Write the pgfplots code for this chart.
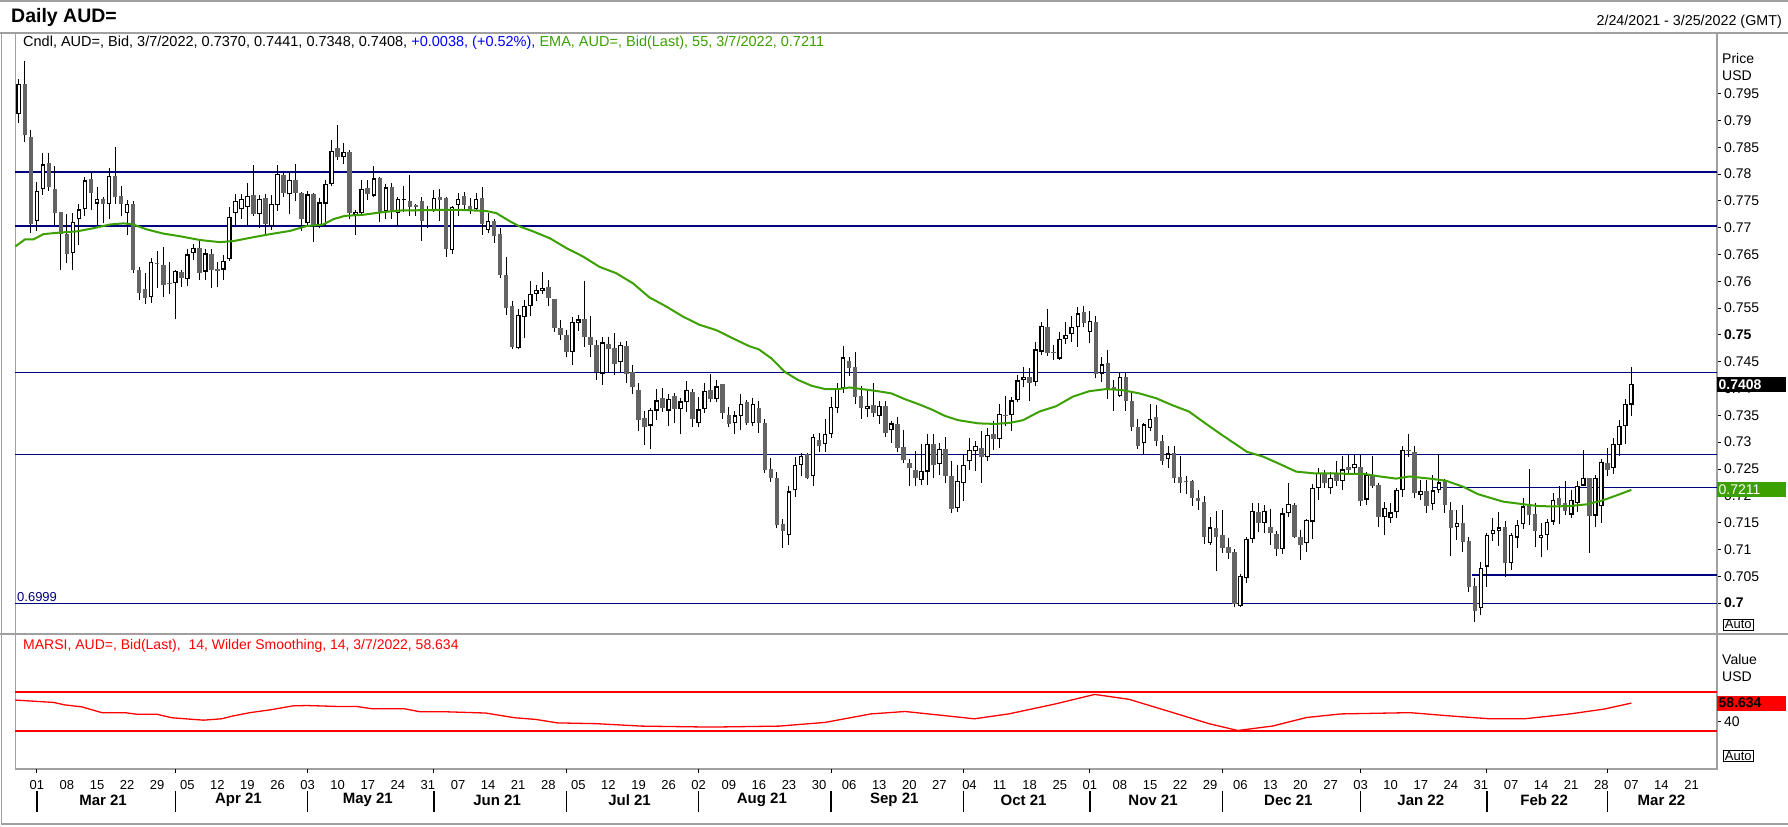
\documentclass[border=0pt]{standalone}
\usepackage{fontspec}
\setmainfont{Liberation Sans}
\usepackage{pgfplots}
\usepackage{pgfplotstable}
\pgfplotsset{compat=1.18}
\definecolor{navyl}{RGB}{0,0,128}
\definecolor{emag}{RGB}{60,160,0}
\definecolor{cgray}{RGB}{100,100,100}
\definecolor{fgray}{RGB}{160,160,160}
\definecolor{rsired}{RGB}{255,0,0}
\definecolor{hblue}{RGB}{0,0,255}
\newcommand{\fs}[1]{\fontsize{#1pt}{#1pt}\selectfont}
\pgfplotsset{ebar/.style={draw=none, mark=none, forget plot, error bars/.cd, y dir=plus, y explicit, error mark=none, error bar style={#1}}}
\pgfplotstableread{
i o h l c
0 0.7912 0.7977 0.7895 0.7968
1 0.7968 0.8010 0.7859 0.7872
2 0.7870 0.7883 0.7691 0.7706
3 0.7713 0.7786 0.7694 0.7769
4 0.7772 0.7839 0.7761 0.7818
5 0.7820 0.7839 0.7769 0.7775
6 0.7773 0.7815 0.7705 0.7727
7 0.7729 0.7730 0.7622 0.7689
8 0.7689 0.7726 0.7635 0.7651
9 0.7652 0.7727 0.7622 0.7711
10 0.7716 0.7745 0.7668 0.7734
11 0.7734 0.7795 0.7722 0.7788
12 0.7790 0.7803 0.7733 0.7765
13 0.7745 0.7775 0.7705 0.7754
14 0.7754 0.7758 0.7709 0.7744
15 0.7744 0.7812 0.7716 0.7796
16 0.7796 0.7851 0.7745 0.7757
17 0.7759 0.7777 0.7721 0.7744
18 0.7727 0.7752 0.7686 0.7745
19 0.7745 0.7749 0.7615 0.7622
20 0.7621 0.7627 0.7565 0.7578
21 0.7585 0.7615 0.7558 0.7568
22 0.7570 0.7643 0.7560 0.7636
23 0.7635 0.7657 0.7587 0.7632
24 0.7630 0.7664 0.7570 0.7593
25 0.7597 0.7636 0.7577 0.7595
26 0.7596 0.7622 0.7530 0.7619
27 0.7617 0.7622 0.7590 0.7607
28 0.7604 0.7660 0.7592 0.7650
29 0.7652 0.7669 0.7640 0.7663
30 0.7663 0.7675 0.7602 0.7615
31 0.7618 0.7660 0.7602 0.7652
32 0.7650 0.7660 0.7587 0.7622
33 0.7622 0.7636 0.7590 0.7620
34 0.7622 0.7649 0.7602 0.7638
35 0.7641 0.7739 0.7637 0.7720
36 0.7727 0.7762 0.7703 0.7750
37 0.7734 0.7762 0.7716 0.7753
38 0.7739 0.7784 0.7703 0.7759
39 0.7761 0.7817 0.7721 0.7725
40 0.7725 0.7761 0.7699 0.7753
41 0.7756 0.7763 0.7689 0.7707
42 0.7703 0.7761 0.7696 0.7745
43 0.7742 0.7817 0.7732 0.7800
44 0.7798 0.7806 0.7757 0.7765
45 0.7762 0.7803 0.7725 0.7789
46 0.7789 0.7819 0.7749 0.7765
47 0.7764 0.7767 0.7694 0.7717
48 0.7708 0.7769 0.7703 0.7762
49 0.7763 0.7764 0.7674 0.7705
50 0.7705 0.7756 0.7700 0.7747
51 0.7745 0.7789 0.7701 0.7781
52 0.7781 0.7864 0.7778 0.7843
53 0.7849 0.7892 0.7826 0.7831
54 0.7831 0.7857 0.7818 0.7841
55 0.7841 0.7845 0.7717 0.7727
56 0.7724 0.7733 0.7687 0.7730
57 0.7727 0.7789 0.7721 0.7773
58 0.7774 0.7788 0.7752 0.7763
59 0.7760 0.7815 0.7757 0.7792
60 0.7792 0.7795 0.7711 0.7728
61 0.7730 0.7781 0.7716 0.7775
62 0.7775 0.7783 0.7716 0.7730
63 0.7727 0.7758 0.7703 0.7753
64 0.7751 0.7778 0.7730 0.7753
65 0.7750 0.7798 0.7722 0.7739
66 0.7741 0.7745 0.7722 0.7739
67 0.7750 0.7758 0.7676 0.7713
68 0.7733 0.7741 0.7699 0.7735
69 0.7733 0.7770 0.7730 0.7755
70 0.7757 0.7773 0.7713 0.7752
71 0.7755 0.7758 0.7645 0.7660
72 0.7658 0.7740 0.7651 0.7738
73 0.7742 0.7765 0.7721 0.7754
74 0.7759 0.7767 0.7734 0.7742
75 0.7740 0.7756 0.7725 0.7733
76 0.7734 0.7765 0.7732 0.7754
77 0.7755 0.7775 0.7687 0.7706
78 0.7696 0.7728 0.7691 0.7712
79 0.7712 0.7717 0.7672 0.7685
80 0.7688 0.7699 0.7606 0.7611
81 0.7612 0.7646 0.7537 0.7551
82 0.7554 0.7564 0.7473 0.7478
83 0.7476 0.7548 0.7474 0.7537
84 0.7533 0.7565 0.7494 0.7554
85 0.7553 0.7601 0.7536 0.7576
86 0.7576 0.7593 0.7564 0.7584
87 0.7581 0.7617 0.7576 0.7587
88 0.7589 0.7602 0.7553 0.7568
89 0.7567 0.7567 0.7506 0.7512
90 0.7513 0.7528 0.7491 0.7499
91 0.7499 0.7509 0.7458 0.7469
92 0.7468 0.7534 0.7444 0.7525
93 0.7523 0.7538 0.7508 0.7529
94 0.7530 0.7601 0.7478 0.7497
95 0.7496 0.7535 0.7459 0.7481
96 0.7481 0.7491 0.7415 0.7431
97 0.7428 0.7496 0.7407 0.7486
98 0.7483 0.7497 0.7431 0.7474
99 0.7476 0.7503 0.7426 0.7446
100 0.7449 0.7487 0.7430 0.7481
101 0.7479 0.7489 0.7411 0.7428
102 0.7430 0.7444 0.7390 0.7402
103 0.7397 0.7410 0.7321 0.7341
104 0.7345 0.7358 0.7295 0.7329
105 0.7331 0.7364 0.7288 0.7360
106 0.7359 0.7399 0.7341 0.7378
107 0.7382 0.7401 0.7356 0.7364
108 0.7359 0.7390 0.7330 0.7380
109 0.7386 0.7391 0.7335 0.7361
110 0.7361 0.7382 0.7316 0.7376
111 0.7374 0.7414 0.7357 0.7397
112 0.7394 0.7399 0.7329 0.7344
113 0.7335 0.7385 0.7328 0.7361
114 0.7362 0.7410 0.7355 0.7395
115 0.7397 0.7427 0.7374 0.7380
116 0.7380 0.7416 0.7374 0.7404
117 0.7408 0.7408 0.7344 0.7354
118 0.7351 0.7365 0.7328 0.7333
119 0.7335 0.7359 0.7315 0.7350
120 0.7349 0.7390 0.7323 0.7372
121 0.7375 0.7379 0.7332 0.7335
122 0.7335 0.7382 0.7331 0.7371
123 0.7363 0.7376 0.7318 0.7336
124 0.7335 0.7343 0.7242 0.7248
125 0.7249 0.7270 0.7226 0.7233
126 0.7233 0.7244 0.7139 0.7146
127 0.7147 0.7157 0.7103 0.7135
128 0.7126 0.7218 0.7109 0.7208
129 0.7210 0.7272 0.7198 0.7257
130 0.7257 0.7280 0.7236 0.7274
131 0.7277 0.7280 0.7231 0.7234
132 0.7236 0.7316 0.7219 0.7310
133 0.7304 0.7318 0.7281 0.7293
134 0.7296 0.7343 0.7282 0.7316
135 0.7315 0.7384 0.7307 0.7365
136 0.7364 0.7410 0.7354 0.7400
137 0.7400 0.7479 0.7392 0.7458
138 0.7451 0.7459 0.7424 0.7439
139 0.7440 0.7469 0.7372 0.7385
140 0.7386 0.7405 0.7344 0.7364
141 0.7362 0.7396 0.7346 0.7367
142 0.7369 0.7411 0.7346 0.7355
143 0.7349 0.7377 0.7334 0.7367
144 0.7367 0.7376 0.7310 0.7318
145 0.7322 0.7339 0.7299 0.7335
146 0.7334 0.7346 0.7282 0.7290
147 0.7291 0.7323 0.7261 0.7266
148 0.7262 0.7269 0.7219 0.7251
149 0.7248 0.7284 0.7219 0.7233
150 0.7229 0.7297 0.7220 0.7246
151 0.7245 0.7316 0.7220 0.7296
152 0.7297 0.7316 0.7234 0.7257
153 0.7259 0.7299 0.7239 0.7287
154 0.7287 0.7310 0.7223 0.7236
155 0.7237 0.7265 0.7168 0.7175
156 0.7177 0.7257 0.7170 0.7227
157 0.7224 0.7276 0.7191 0.7257
158 0.7264 0.7307 0.7248 0.7285
159 0.7284 0.7302 0.7247 0.7293
160 0.7290 0.7320 0.7224 0.7273
161 0.7272 0.7326 0.7265 0.7313
162 0.7315 0.7339 0.7285 0.7306
163 0.7305 0.7372 0.7290 0.7352
164 0.7351 0.7386 0.7330 0.7349
165 0.7350 0.7384 0.7321 0.7378
166 0.7378 0.7425 0.7374 0.7415
167 0.7415 0.7440 0.7402 0.7421
168 0.7422 0.7438 0.7376 0.7411
169 0.7412 0.7486 0.7405 0.7473
170 0.7469 0.7525 0.7463 0.7517
171 0.7515 0.7548 0.7461 0.7467
172 0.7468 0.7481 0.7453 0.7466
173 0.7456 0.7506 0.7453 0.7492
174 0.7492 0.7525 0.7483 0.7500
175 0.7502 0.7535 0.7486 0.7515
176 0.7514 0.7552 0.7478 0.7540
177 0.7542 0.7553 0.7514 0.7522
178 0.7505 0.7545 0.7484 0.7526
179 0.7525 0.7535 0.7419 0.7428
180 0.7428 0.7458 0.7412 0.7445
181 0.7447 0.7472 0.7381 0.7399
182 0.7402 0.7415 0.7359 0.7400
183 0.7386 0.7431 0.7384 0.7421
184 0.7421 0.7431 0.7359 0.7376
185 0.7376 0.7391 0.7321 0.7328
186 0.7328 0.7344 0.7287 0.7293
187 0.7298 0.7335 0.7276 0.7333
188 0.7326 0.7371 0.7320 0.7344
189 0.7346 0.7369 0.7292 0.7303
190 0.7302 0.7313 0.7257 0.7265
191 0.7268 0.7293 0.7251 0.7279
192 0.7279 0.7293 0.7224 0.7234
193 0.7235 0.7274 0.7205 0.7223
194 0.7226 0.7236 0.7203 0.7225
195 0.7228 0.7230 0.7181 0.7195
196 0.7195 0.7210 0.7173 0.7191
197 0.7188 0.7199 0.7110 0.7124
198 0.7112 0.7161 0.7109 0.7141
199 0.7139 0.7172 0.7060 0.7124
200 0.7127 0.7173 0.7094 0.7103
201 0.7104 0.7121 0.7082 0.7094
202 0.7095 0.7101 0.6992 0.6999
203 0.6995 0.7055 0.6993 0.7050
204 0.7047 0.7124 0.7037 0.7119
205 0.7119 0.7186 0.7112 0.7172
206 0.7170 0.7186 0.7133 0.7150
207 0.7149 0.7183 0.7130 0.7171
208 0.7142 0.7176 0.7109 0.7130
209 0.7128 0.7134 0.7088 0.7101
210 0.7101 0.7178 0.7091 0.7167
211 0.7167 0.7223 0.7161 0.7185
212 0.7183 0.7186 0.7121 0.7124
213 0.7124 0.7137 0.7081 0.7108
214 0.7111 0.7156 0.7096 0.7155
215 0.7152 0.7222 0.7119 0.7214
216 0.7214 0.7251 0.7193 0.7242
217 0.7242 0.7248 0.7214 0.7223
218 0.7214 0.7245 0.7203 0.7234
219 0.7242 0.7265 0.7218 0.7228
220 0.7228 0.7275 0.7211 0.7249
221 0.7254 0.7276 0.7242 0.7248
222 0.7251 0.7276 0.7242 0.7260
223 0.7254 0.7276 0.7181 0.7190
224 0.7193 0.7244 0.7183 0.7239
225 0.7239 0.7274 0.7214 0.7218
226 0.7220 0.7224 0.7142 0.7160
227 0.7160 0.7189 0.7127 0.7178
228 0.7158 0.7186 0.7149 0.7169
229 0.7169 0.7214 0.7158 0.7211
230 0.7210 0.7293 0.7198 0.7285
231 0.7285 0.7315 0.7273 0.7283
232 0.7281 0.7292 0.7196 0.7206
233 0.7201 0.7229 0.7192 0.7209
234 0.7209 0.7229 0.7168 0.7181
235 0.7184 0.7239 0.7173 0.7210
236 0.7210 0.7277 0.7205 0.7225
237 0.7229 0.7231 0.7168 0.7183
238 0.7173 0.7188 0.7088 0.7140
239 0.7141 0.7173 0.7117 0.7149
240 0.7150 0.7183 0.7096 0.7114
241 0.7116 0.7124 0.7021 0.7030
242 0.7032 0.7046 0.6965 0.6986
243 0.6990 0.7077 0.6978 0.7065
244 0.7068 0.7130 0.7030 0.7127
245 0.7128 0.7158 0.7116 0.7137
246 0.7135 0.7169 0.7107 0.7141
247 0.7141 0.7153 0.7049 0.7075
248 0.7075 0.7131 0.7062 0.7127
249 0.7122 0.7155 0.7103 0.7146
250 0.7147 0.7195 0.7138 0.7180
251 0.7180 0.7250 0.7146 0.7164
252 0.7166 0.7186 0.7105 0.7134
253 0.7122 0.7150 0.7085 0.7127
254 0.7126 0.7156 0.7099 0.7152
255 0.7152 0.7206 0.7146 0.7193
256 0.7196 0.7218 0.7147 0.7183
257 0.7186 0.7228 0.7164 0.7172
258 0.7165 0.7210 0.7158 0.7192
259 0.7187 0.7228 0.7169 0.7219
260 0.7219 0.7285 0.7218 0.7234
261 0.7234 0.7234 0.7094 0.7163
262 0.7163 0.7239 0.7141 0.7233
263 0.7180 0.7268 0.7150 0.7263
264 0.7262 0.7290 0.7236 0.7248
265 0.7251 0.7307 0.7241 0.7296
266 0.7295 0.7341 0.7274 0.7330
267 0.7330 0.7381 0.7297 0.7371
268 0.7370 0.7441 0.7348 0.7408
}\candles
\begin{document}
\begin{tikzpicture}
\path[use as bounding box] (0,0) rectangle (1788pt,827pt);
\fill[white] (0,0) rectangle (1788pt,827pt);
\draw[fgray, line width=1.2pt] (0pt,826pt) -- (1788pt,826pt);
\draw[fgray, line width=1.2pt] (0pt,794pt) -- (1788pt,794pt);
\draw[fgray, line width=1.2pt] (0pt,193pt) -- (1788pt,193pt);
\draw[fgray, line width=1.2pt] (1.8pt,794pt) -- (1.8pt,3pt) -- (1788pt,3pt);
% ---------- main price pane ----------
\begin{axis}[
  at={(15.4pt,193pt)}, anchor=south west,
  width=1701.6pt, height=601pt, scale only axis,
  xmin=-0.565, xmax=282.23, ymin=0.69422, ymax=0.80631,
  clip=false,
  axis line style={fgray, line width=1.2pt},
  xtick=\empty,
  ytick={0.7,0.705,0.71,0.715,0.72,0.725,0.73,0.735,0.74,0.745,0.75,0.755,0.76,0.765,0.77,0.775,0.78,0.785,0.79,0.795},
  yticklabels={\textbf{0.7},0.705,0.71,0.715,0.72,0.725,0.73,0.735,0.74,0.745,\textbf{0.75},0.755,0.76,0.765,0.77,0.775,0.78,0.785,0.79,0.795},
  scaled y ticks=false,
  ytick pos=right, tick align=outside, major tick length=4pt,
  ytick style={black, line width=0.9pt},
  yticklabel style={anchor=west, inner sep=0pt, xshift=3pt, font=\fs{14}},
]
\addplot[navyl, line width=1.3pt] coordinates {(-0.565,0.7804) (282.23,0.7804)};
\addplot[navyl, line width=1.3pt] coordinates {(-0.565,0.7703) (282.23,0.7703)};
\addplot[navyl, line width=1.3pt] coordinates {(-0.565,0.7430) (282.23,0.7430)};
\addplot[navyl, line width=1.3pt] coordinates {(-0.565,0.7277) (282.23,0.7277)};
\addplot[navyl, line width=1.3pt] coordinates {(-0.565,0.6999) (282.23,0.6999)};
\addplot[navyl, line width=1.3pt] coordinates {(234.8,0.7216) (282.23,0.7216)};
\addplot[navyl, line width=1.3pt] coordinates {(241.5,0.7052) (282.23,0.7052)};
% wicks
\addplot[ebar={draw=black, line width=1pt}] table[x=i, y=l, y error expr={\thisrow{h}-\thisrow{l}}]{\candles};
% bodies (grey for all, min height)
\addplot[ebar={draw=cgray, line width=4.6pt}] table[x=i, y expr={min(\thisrow{o},\thisrow{c})}, y error expr={max(abs(\thisrow{o}-\thisrow{c}),0.00025)}]{\candles};
% up candles: outline + white interior
\addplot[ebar={draw=black, line width=4.6pt}] table[x=i, y=o, y error expr={max(\thisrow{c}-\thisrow{o},0)}]{\candles};
\addplot[ebar={draw=white, line width=2.2pt}] table[x=i, y expr={\thisrow{o}+0.00022}, y error expr={max(\thisrow{c}-\thisrow{o}-0.00044,0)}]{\candles};
\addplot[emag, line width=2pt] coordinates {
(-0.565,0.7665) (1,0.7678) (2.4,0.7678) (4.1,0.7688) (6.9,0.7691) (9.6,0.7693) (12.4,0.7699) (15.2,0.7706) (17.4,0.7708) (19,0.7706) (21.2,0.7697) (24,0.7689) (26.8,0.7684) (30.1,0.7677) (33.4,0.7673) (35.7,0.7675) (38.4,0.7681) (41.8,0.7688) (45.1,0.7694) (47.8,0.7703) (50.6,0.7706) (52.3,0.7716) (54.2,0.7722) (57.2,0.7724) (60.5,0.7729) (63.3,0.7732) (69.4,0.7733) (73.8,0.7733) (77.7,0.7731) (79.4,0.7727) (81.6,0.7712) (83.3,0.7702) (85.5,0.7693) (88.3,0.7680) (91,0.7662) (93.8,0.7646) (96.5,0.7627) (99.3,0.7615) (102.1,0.7596) (104.8,0.7570) (107.6,0.7553) (110.4,0.7534) (113.1,0.7519) (115.9,0.7509) (118.6,0.7494) (121.4,0.7479) (123,0.7473) (125.1,0.7456) (127.3,0.7431) (129.5,0.7416) (131.8,0.7405) (134,0.7399) (136.2,0.7399) (138.1,0.7402) (140.1,0.7399) (142.8,0.7395) (145,0.7391) (147.3,0.7380) (149.5,0.7371) (151.7,0.7361) (153.9,0.7349) (156.1,0.7341) (159.5,0.7335) (162.2,0.7334) (164.7,0.7336) (166.9,0.7341) (169.6,0.7357) (172.4,0.7367) (175.2,0.7385) (177.9,0.7395) (180.7,0.7399) (183.4,0.7397) (186.2,0.7391) (189,0.7382) (191.7,0.7369) (194.5,0.7357) (197.2,0.7335) (200,0.7313) (202.8,0.7292) (204.1,0.7282) (206.8,0.7273) (209.6,0.7259) (212.3,0.7245) (215.1,0.7242) (217.9,0.7242) (220.6,0.7241) (223.4,0.7241) (226.2,0.7236) (228.9,0.7232) (231.1,0.7236) (234.5,0.7232) (237.2,0.7228) (240,0.7217) (242.5,0.7203) (244,0.7198) (246.7,0.7189) (249.5,0.7185) (252.3,0.7181) (255.1,0.7180) (257.8,0.7181) (260.6,0.7184) (263.4,0.7192) (265.6,0.7201) (268,0.7211)};
\node[fill=black, text=white, font=\bfseries\fs{14}, anchor=west, inner xsep=1.5pt, inner ysep=0pt, text width=66pt, align=left, minimum height=15pt] at (axis cs:282.23,0.7408) {0.7408};
\node[fill=emag, text=white, font=\fs{14}, anchor=west, inner xsep=1.5pt, inner ysep=0pt, text width=66pt, align=left, minimum height=15pt] at (axis cs:282.23,0.7211) {0.7211};
\end{axis}
% ---------- RSI pane ----------
\begin{axis}[
  at={(15.4pt,58pt)}, anchor=south west,
  width=1701.6pt, height=135pt, scale only axis,
  xmin=-0.565, xmax=282.23, ymin=-9, ymax=129.5,
  clip=false,
  axis line style={fgray, line width=1.2pt},
  xtick={3,8,...,278},
  xticklabels={01,08,15,22,29,05,12,19,26,03,10,17,24,31,07,14,21,28,05,12,19,26,02,09,16,23,30,06,13,20,27,04,11,18,25,01,08,15,22,29,06,13,20,27,03,10,17,24,31,07,14,21,28,07,14,21},
  xtick style={draw=none},
  xticklabel style={anchor=center, inner sep=0pt, yshift=-12pt, font=\fs{13}},
  ytick={40}, yticklabels={40},
  ytick pos=right, tick align=outside, major tick length=4pt,
  ytick style={black, line width=0.9pt},
  yticklabel style={anchor=west, inner sep=0pt, xshift=3pt, font=\fs{14}},
]
\addplot[rsired, line width=1.3pt] coordinates {(-0.565,70) (282.23,70)};
\addplot[rsired, line width=1.3pt] coordinates {(-0.565,30) (282.23,30)};
\addplot[rsired, line width=1.3pt] coordinates {
(-0.565,61.7) (5.8,59.3) (7.6,56.8) (10.5,54.7) (13.8,48.8) (17.6,48.8) (19.7,47.1) (23,47.1) (25.4,43.6) (27.7,42.5) (30.7,41.1) (33.7,42.5) (35.5,45.3) (38.4,48.8) (42,51.9) (45.6,55.8) (47.9,56.1) (53.3,55.1) (56.2,55.1) (58.6,52.9) (64,52.9) (66.6,49.8) (70.5,49.8) (77.6,48.4) (82.4,43.6) (86,41.8) (89.5,38.3) (96,37.5) (103.5,35) (115,34) (126.4,35) (134,38.8) (141.6,47.5) (147.3,50) (155,45) (158.8,42.5) (164.5,47.5) (172.1,57.5) (178.8,67.5) (184.5,62.5) (191.2,50) (197.8,37.5) (202.6,30.5) (208.3,35) (214,43.8) (219.7,47.5) (231.2,48.8) (238.8,45) (244.5,42.5) (250.2,42.5) (257.8,47.5) (263.5,52.5) (268,58.634)};
\node[fill=rsired, text=black, font=\bfseries\fs{14}, anchor=west, inner xsep=1.5pt, inner ysep=0pt, text width=66pt, align=left, minimum height=15pt] at (axis cs:282.23,58.634) {58.634};
\pgfplotsinvokeforeach{3,26,48,69,91,113,135,157,178,200,223,244,264}{
  \draw[black, line width=1pt] (axis cs:#1,-9) -- ([yshift=-4pt]axis cs:#1,-9);
  \draw[black, line width=1.4pt] ([yshift=-22pt]axis cs:#1,-9) -- ([yshift=-43pt]axis cs:#1,-9);
}
\node[font=\bfseries\fs{15}, inner sep=0pt] at ([yshift=-31pt]axis cs:14,-9) {Mar 21};
\node[font=\bfseries\fs{15}, inner sep=0pt] at ([yshift=-31pt]axis cs:36.5,-9) {Apr 21};
\node[font=\bfseries\fs{15}, inner sep=0pt] at ([yshift=-31pt]axis cs:58,-9) {May 21};
\node[font=\bfseries\fs{15}, inner sep=0pt] at ([yshift=-31pt]axis cs:79.5,-9) {Jun 21};
\node[font=\bfseries\fs{15}, inner sep=0pt] at ([yshift=-31pt]axis cs:101.5,-9) {Jul 21};
\node[font=\bfseries\fs{15}, inner sep=0pt] at ([yshift=-31pt]axis cs:123.5,-9) {Aug 21};
\node[font=\bfseries\fs{15}, inner sep=0pt] at ([yshift=-31pt]axis cs:145.5,-9) {Sep 21};
\node[font=\bfseries\fs{15}, inner sep=0pt] at ([yshift=-31pt]axis cs:167,-9) {Oct 21};
\node[font=\bfseries\fs{15}, inner sep=0pt] at ([yshift=-31pt]axis cs:188.5,-9) {Nov 21};
\node[font=\bfseries\fs{15}, inner sep=0pt] at ([yshift=-31pt]axis cs:211,-9) {Dec 21};
\node[font=\bfseries\fs{15}, inner sep=0pt] at ([yshift=-31pt]axis cs:233,-9) {Jan 22};
\node[font=\bfseries\fs{15}, inner sep=0pt] at ([yshift=-31pt]axis cs:253.5,-9) {Feb 22};
\node[font=\bfseries\fs{15}, inner sep=0pt] at ([yshift=-31pt]axis cs:273,-9) {Mar 22};
\end{axis}
% ---------- texts ----------
\node[anchor=west, font=\bfseries\fs{19.5}, inner sep=0pt] at (11pt,809.5pt) {Daily AUD=};
\node[anchor=east, font=\fs{14.3}, inner sep=0pt] at (1782pt,805.5pt) {2/24/2021 - 3/25/2022 (GMT)};
\node[anchor=west, font=\fs{14.5}, inner sep=0pt] at (23pt,784pt) {Cndl, AUD=, Bid, 3/7/2022, 0.7370, 0.7441, 0.7348, 0.7408, \textcolor{hblue}{+0.0038, (+0.52\%),} \textcolor{emag}{EMA, AUD=, Bid(Last), 55, 3/7/2022, 0.7211}};
\node[anchor=west, font=\fs{14}, inner sep=0pt, text=rsired] at (23pt,181pt) {MARSI, AUD=, Bid(Last),\ \ 14, Wilder Smoothing, 14, 3/7/2022, 58.634};
\node[anchor=south west, font=\fs{13}, inner sep=0pt, text=navyl] at (17pt,225pt) {0.6999};
\node[anchor=west, font=\fs{14}, inner sep=0pt] at (1722pt,768.7pt) {Price};
\node[anchor=west, font=\fs{14}, inner sep=0pt] at (1722pt,751pt) {USD};
\node[anchor=west, font=\fs{14}, inner sep=0pt] at (1722pt,168pt) {Value};
\node[anchor=west, font=\fs{14}, inner sep=0pt] at (1722pt,150pt) {USD};
\node[draw=black, line width=0.8pt, anchor=west, font=\fs{13}, inner xsep=1.5pt, inner ysep=1pt] at (1723pt,202.5pt) {Auto};
\node[draw=black, line width=0.8pt, anchor=west, font=\fs{13}, inner xsep=1.5pt, inner ysep=1pt] at (1723pt,71pt) {Auto};
\end{tikzpicture}
\end{document}
